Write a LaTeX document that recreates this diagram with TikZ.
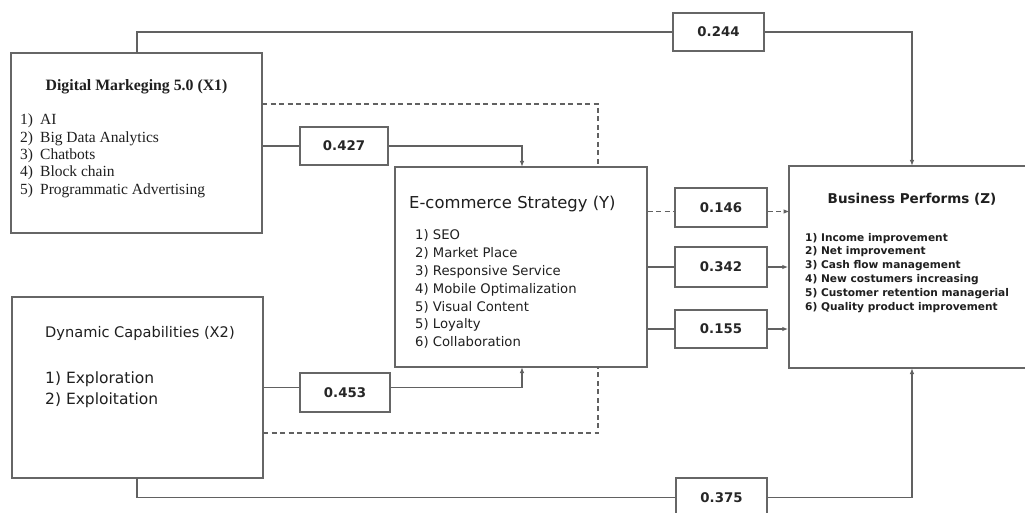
\documentclass[tikz,border=0pt]{standalone}
\usepackage{fontspec}
\setmainfont{DejaVu Sans}
\newfontfamily\serifface{Liberation Serif}
\usetikzlibrary{arrows.meta}

\begin{document}
\begin{tikzpicture}[x=1pt,y=-1pt,
  frame/.style={draw=black!60, line width=1.4pt, fill=white, inner sep=0pt},
  coef/.style={frame, line width=1.2pt, font=\fontsize{13.3}{16}\selectfont\bfseries, text=black!85},
  link/.style={draw=black!62, line width=1.3pt},
  dlink/.style={link, dash pattern=on 5pt off 3.5pt},
  tip/.style={-{Latex[length=6pt,width=4.5pt]}},
  txt/.style={inner sep=0pt, anchor=base west, text=black!88},
]
\useasboundingbox (0,0) rectangle (1025,513);
\fill[white] (0,0) rectangle (1025,513);
\clip (0,0) rectangle (1025,513);

% construct boxes
\node[frame, minimum width=251pt, minimum height=180pt] (x1) at (136.5,143) {};
\node[frame, minimum width=251pt, minimum height=181pt] (x2) at (137.5,387.5) {};
\node[frame, minimum width=252pt, minimum height=200pt] (e) at (521,267) {};
\node[frame, minimum width=252pt, minimum height=202pt] (z) at (915,267) {};

% path coefficient boxes
\node[coef, minimum width=91pt, minimum height=38pt] (b244) at (718.5,32) {0.244};
\node[coef, minimum width=88pt, minimum height=38pt] (b427) at (344,146) {0.427};
\node[coef, minimum width=92pt, minimum height=39pt] (b146) at (721,207.5) {0.146};
\node[coef, minimum width=92pt, minimum height=40pt] (b342) at (721,267) {0.342};
\node[coef, minimum width=92pt, minimum height=38pt] (b155) at (721,329) {0.155};
\node[coef, minimum width=90pt, minimum height=39pt] (b453) at (345,392.5) {0.453};
\node[coef, minimum width=91pt, minimum height=39pt] (b375) at (721.5,497.5) {0.375};

% box contents
\node[txt, anchor=base] (x1t) at (136.5,91)
  {\fontsize{15.8}{18}\selectfont\serifface\bfseries Digital Markeging 5.0 (X1)};
\node[txt] (x1l) at (20,125) {\fontsize{15.5}{17.3}\selectfont\serifface
  \begin{tabular}[t]{@{}l@{}}
  \makebox[20pt][l]{1)}AI\\
  \makebox[20pt][l]{2)}Big Data Analytics\\
  \makebox[20pt][l]{3)}Chatbots\\
  \makebox[20pt][l]{4)}Block chain\\
  \makebox[20pt][l]{5)}Programmatic Advertising
  \end{tabular}};

\node[txt] (et) at (409,208) {\fontsize{16.4}{19}\selectfont E-commerce Strategy (Y)};
\node[txt] (el) at (415,240) {\fontsize{13.2}{17.8}\selectfont
  \begin{tabular}[t]{@{}l@{}}
  1) SEO\\ 2) Market Place\\ 3) Responsive Service\\ 4) Mobile Optimalization\\
  5) Visual Content\\ 5) Loyalty\\ 6) Collaboration
  \end{tabular}};

\node[txt, anchor=base] (zt) at (912,204) {\fontsize{13.5}{16}\selectfont\bfseries Business Performs (Z)};
\node[txt] (zl) at (805,241) {\fontsize{10.6}{13.8}\selectfont\bfseries
  \begin{tabular}[t]{@{}l@{}}
  1) Income improvement\\ 2) Net improvement\\ 3) Cash flow management\\
  4) New costumers increasing\\ 5) Customer retention managerial\\
  6) Quality product improvement
  \end{tabular}};

\node[txt] (x2t) at (45,337) {\fontsize{14.6}{17}\selectfont Dynamic Capabilities (X2)};
\node[txt] (x2l) at (45,383) {\fontsize{15.5}{21}\selectfont
  \begin{tabular}[t]{@{}l@{}}
  1) Exploration\\ 2) Exploitation
  \end{tabular}};

% connector bend points
\coordinate (x1up) at (137,53);
\coordinate (x2dn) at (137,478);
\coordinate (ein1) at (522,167);
\coordinate (ein2) at (522,367);
\coordinate (edash1) at (598,167);
\coordinate (edash2) at (598,367);
\coordinate (zin1) at (912,166);
\coordinate (zin2) at (912,368);
\coordinate (x1d) at (262,104);
\coordinate (x2d) at (263,433);

% X1 -> Z
\draw[link] (x1up) |- (b244.west);
\draw[link, tip] (b244.east) -| (zin1);
% X1 -> Y
\draw[link] (x1.east |- b427.west) -- (b427.west);
\draw[link, tip] (b427.east) -| (ein1);
\draw[dlink] (x1d) -| (edash1);
% Y -> Z
\draw[dlink] (e.east |- b146.west) ++(0,4) -- ([yshift=-4pt]b146.west);
\draw[dlink, tip] ([yshift=-4pt]b146.east) -- ++(22,0);
\draw[link] (e.east |- b342.west) -- (b342.west);
\draw[link, tip] (b342.east) -- (z.west |- b342.east);
\draw[link] (e.east |- b155.west) -- (b155.west);
\draw[link, tip] (b155.east) -- (z.west |- b155.east);
% X2 -> Y
\draw[link] (x2.east |- b453.west) ++(0,-5) -- ([yshift=5pt]b453.west);
\draw[link, tip] ([yshift=5pt]b453.east) -| (ein2);
\draw[dlink] (x2d) -| (edash2);
% X2 -> Z
\draw[link] (x2dn) |- (b375.west);
\draw[link, tip] (b375.east) -| (zin2);
\end{tikzpicture}
\end{document}
